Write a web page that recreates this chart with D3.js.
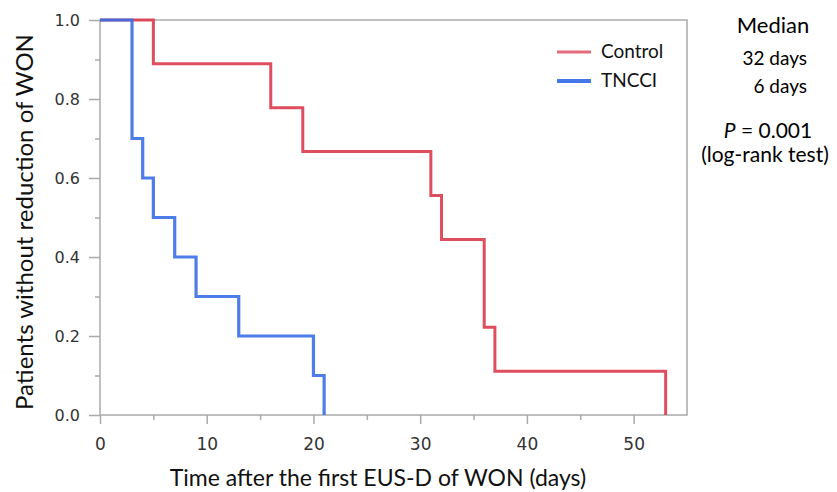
<!DOCTYPE html>
<html>
<head>
<meta charset="utf-8">
<script src="https://cdn.jsdelivr.net/npm/d3@7"></script>
<style>
  body { margin: 0; background: #fff; }
  svg { display: block; }
</style>
</head>
<body>
<svg id="chart" width="837" height="492"></svg>
<script>
// Kaplan-Meier steps
const control_times=[0,5,16,19,31,32,36,37,53];
const control_surv=[1.0,0.889,0.778,0.667,0.556,0.444,0.222,0.111,0.0];
const tncci_times=[0,3,4,5,7,9,13,20,21];
const tncci_surv=[1.0,0.7,0.6,0.5,0.4,0.3,0.2,0.1,0.0];

const x_ticks=[0,10,20,30,40,50];
const x_minor=[5,15,25,35,45];
const y_ticks=[0,0.2,0.4,0.6,0.8,1.0];
const y_minor=[0.1,0.3,0.5,0.7,0.9];

const legend_names=["Control","TNCCI"];
const side_text=["Median","32 days","6 days"];

const svg=d3.select("#chart");
const plot_left=100, plot_right=687, plot_top=20, plot_bottom=415;

const x=d3.scaleLinear().domain([0,55]).range([plot_left,plot_right]);
const y=d3.scaleLinear().domain([0,1]).range([plot_bottom,plot_top]);

const axis_color="#aaaaaa";
const red="#dc3b4e";
const blue="#3a6fe6";
const tick_font="'DejaVu Sans', sans-serif";
const title_font="Lato, 'Noto Sans', sans-serif";

// frame
svg.append("rect")
    .attr("x",plot_left).attr("y",plot_top)
    .attr("width",plot_right-plot_left).attr("height",plot_bottom-plot_top)
    .attr("fill","none")
    .attr("stroke",axis_color)
    .attr("stroke-width",1.5);

// x axis
const x_axis=svg.append("g").attr("transform","translate(0,"+plot_bottom+")")
    .call(d3.axisBottom(x).tickValues(x_ticks).tickFormat(d3.format("d")).tickSize(9).tickPadding(14));
svg.append("g").attr("transform","translate(0,"+plot_bottom+")")
    .call(d3.axisBottom(x).tickValues(x_minor).tickFormat("").tickSize(5));

// y axis
const y_axis=svg.append("g").attr("transform","translate("+plot_left+",0)")
    .call(d3.axisLeft(y).tickValues(y_ticks).tickFormat(d3.format(".1f")).tickSize(11).tickPadding(9));
svg.append("g").attr("transform","translate("+plot_left+",0)")
    .call(d3.axisLeft(y).tickValues(y_minor).tickFormat("").tickSize(5));

svg.selectAll(".domain").remove();
svg.selectAll(".tick line").attr("stroke",axis_color).attr("stroke-width",1.5);
svg.selectAll(".tick text")
    .attr("fill","#333")
    .style("font-family",tick_font);
x_axis.selectAll(".tick text").style("font-size","17px");
y_axis.selectAll(".tick text").style("font-size","16px");

// step lines
function step_points(times,surv){
    return times.map((t,i)=>[t,surv[i]]);
}
const step_line=d3.line()
    .x(d=>x(d[0]))
    .y(d=>y(d[1]))
    .curve(d3.curveStepAfter);

svg.append("path")
    .datum(step_points(control_times,control_surv))
    .attr("d",step_line)
    .attr("fill","none")
    .attr("stroke",red)
    .attr("stroke-width",3)
    .style("opacity",0.9);

svg.append("path")
    .datum(step_points(tncci_times,tncci_surv))
    .attr("d",step_line)
    .attr("fill","none")
    .attr("stroke",blue)
    .attr("stroke-width",3.2)
    .style("opacity",0.9);

// legend
const legend_colors=[red,blue];
legend_names.forEach((name,i)=>{
    const ly=52+i*29;
    svg.append("line")
        .attr("x1",557).attr("x2",591)
        .attr("y1",ly).attr("y2",ly)
        .attr("stroke",legend_colors[i])
        .attr("stroke-width",i==0?3:4)
        .style("opacity",i==0?0.75:0.95);
    svg.append("text")
        .attr("x",601).attr("y",ly+6)
        .style("font-family",title_font)
        .style("font-size","19px")
        .attr("fill","#111")
        .text(name);
});

// side annotations
svg.append("text")
    .attr("x",773).attr("y",33)
    .attr("text-anchor","middle")
    .style("font-family",title_font).style("font-size","22px")
    .text(side_text[0]);
svg.append("text")
    .attr("x",807).attr("y",65)
    .attr("text-anchor","end")
    .style("font-family",title_font).style("font-size","19px")
    .text(side_text[1]);
svg.append("text")
    .attr("x",807).attr("y",93)
    .attr("text-anchor","end")
    .style("font-family",title_font).style("font-size","19px")
    .text(side_text[2]);

const p_text=svg.append("text")
    .attr("x",768).attr("y",138)
    .attr("text-anchor","middle")
    .style("font-family",title_font).style("font-size","21px");
p_text.append("tspan").style("font-style","italic").text("P");
p_text.append("tspan").text(" = 0.001");

svg.append("text")
    .attr("x",765).attr("y",162)
    .attr("text-anchor","middle")
    .style("font-family",title_font).style("font-size","21px")
    .text("(log-rank test)");

// axis titles
svg.append("text")
    .attr("x",378).attr("y",486)
    .attr("text-anchor","middle")
    .style("font-family",title_font).style("font-size","23px")
    .attr("fill","#111")
    .text("Time after the first EUS-D of WON (days)");

svg.append("text")
    .attr("transform","translate(33,222) rotate(-90)")
    .attr("text-anchor","middle")
    .style("font-family",title_font).style("font-size","24px")
    .attr("fill","#111")
    .text("Patients without reduction of WON");
</script>
</body>
</html>
